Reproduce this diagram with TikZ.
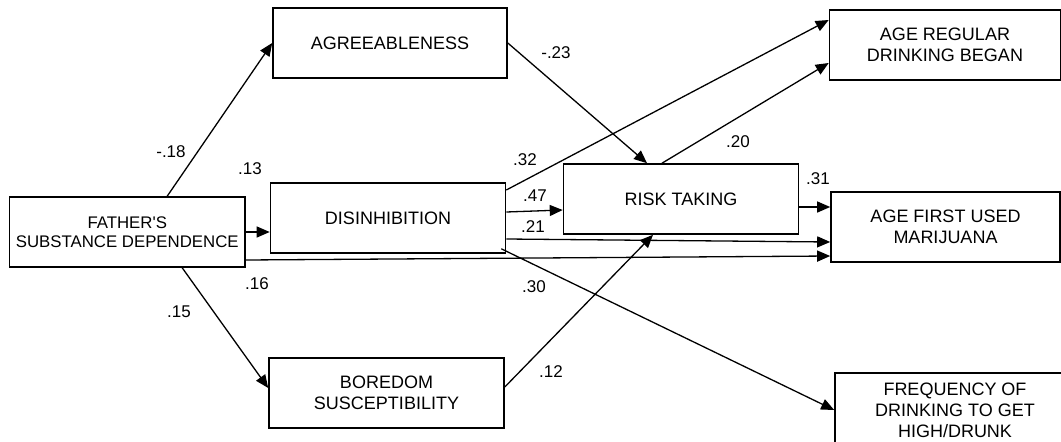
\documentclass[tikz,border=0pt]{standalone}
\usepackage{fontspec}
\setmainfont{Liberation Sans}[Ligatures=TeXOff]
\usetikzlibrary{arrows.meta}
\begin{document}
\begin{tikzpicture}[x=1pt,y=-1pt,
  box/.style={draw, line width=1.6pt, inner sep=0pt, align=center,
    minimum height=70pt, font=\fontsize{18}{21}\selectfont},
  arr/.style={-{Triangle[length=13pt,width=11pt]}, line width=1.3pt},
  lab/.style={inner sep=0pt, font=\fontsize{17}{20}\selectfont}]
\useasboundingbox (0,0) rectangle (1061,442);
\clip (0,0) rectangle (1061,442);

% boxes
\node[box, minimum width=235.5pt, font=\fontsize{16.8}{19.5}\selectfont] (fa) at (127.25,232) {FATHER'S\\SUBSTANCE DEPENDENCE};
\node[box, minimum width=234pt] (ag) at (390,43) {AGREEABLENESS};
\node[box, minimum width=235pt] (di) at (388,218) {DISINHIBITION};
\node[box, minimum width=235pt] (rt) at (681,199) {RISK TAKING};
\node[box, minimum width=235pt] (bo) at (386.5,393) {BOREDOM\\SUSCEPTIBILITY};
\node[box, minimum width=231pt] (ar) at (945,45) {AGE REGULAR\\DRINKING BEGAN};
\node[box, minimum width=229pt] (af) at (945.5,227) {AGE FIRST USED\\MARIJUANA};
\node[box, minimum width=240pt, minimum height=74pt] (fr) at (955,410) {FREQUENCY OF\\DRINKING TO GET\\HIGH/DRUNK};

% connectors
\draw[arr] ([xshift=158.5pt]fa.north west) -- (ag.west);
\draw[arr] (fa.east) -- (fa.east -| di.west);
\draw[arr] ([xshift=173.5pt]fa.south west) -- ([yshift=5pt]bo.west);
\draw[arr] ([yshift=-28pt]fa.east) -- ([yshift=-29pt]af.west);
\draw[arr] (ag.east) -- ([xshift=-34pt]rt.north);
\draw[arr] ([yshift=28pt]di.east) -- ([yshift=25pt]ar.west);
\draw[arr] ([yshift=6pt]di.east) -- ([yshift=-11pt]rt.west);
\draw[arr] ([yshift=-21pt]di.east) -- ([yshift=-15pt]af.west);
\draw[arr] ([xshift=-5pt,yshift=5pt]di.south east) -- (fr.west);
\draw[arr] ([yshift=6pt]bo.east) -- ([xshift=-28pt]rt.south);
\draw[arr] ([xshift=-19pt]rt.north) -- ([yshift=-18pt]ar.west);
\draw[arr] ([yshift=-8pt]rt.east) -- ([yshift=20pt]af.west);

% coefficients
\node[lab] (l1) at (171,152) {-.18};
\node[lab] (l2) at (250,169) {.13};
\node[lab] (l3) at (257,284) {.16};
\node[lab] (l4) at (179,312) {.15};
\node[lab] (l5) at (556,53) {-.23};
\node[lab] (l6) at (525,160) {.32};
\node[lab] (l7) at (535,196) {.47};
\node[lab] (l8) at (533,227) {.21};
\node[lab] (l9) at (534,287) {.30};
\node[lab] (l10) at (551,372) {.12};
\node[lab] (l11) at (738,142) {.20};
\node[lab] (l12) at (818,179) {.31};
\end{tikzpicture}
\end{document}
